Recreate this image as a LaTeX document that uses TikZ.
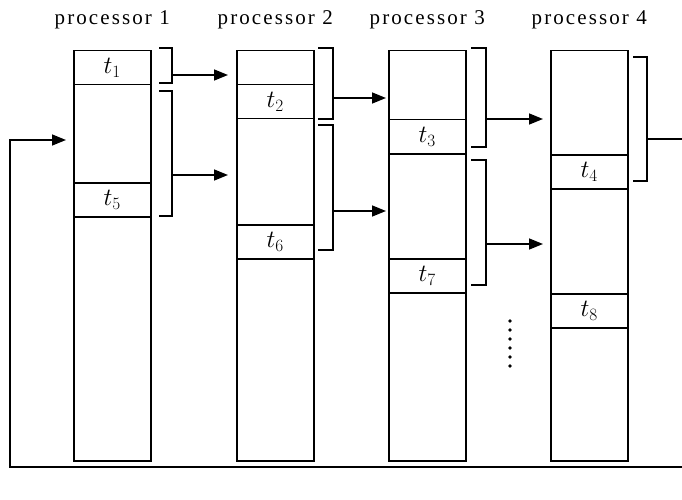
\documentclass[tikz,border=0pt]{standalone}
\usepackage{fontspec}
\setmainfont{Liberation Serif}
\newfontfamily\labelfont[LetterSpace=10]{Liberation Serif}
\usetikzlibrary{positioning,arrows.meta}

\begin{document}
\begin{tikzpicture}[x=1pt, y=-1pt,
  column/.style={rectangle, draw, line width=1.5pt, minimum width=77pt, minimum height=410pt, inner sep=0pt, anchor=north west},
  slot/.style={rectangle, draw, line width=1.5pt, minimum width=77pt, minimum height=34pt, inner sep=0pt, anchor=north west, font=\fontsize{27}{27}\selectfont},
  proclabel/.style={font=\labelfont\fontsize{21}{21}\selectfont, inner sep=0pt},
  brace/.style={line width=1.5pt},
  arrow/.style={-{Triangle[length=14pt,width=11pt]}, line width=1.5pt},
  loop/.style={line width=1.5pt}
]
\useasboundingbox (0,0) rectangle (682,500);
\clip (0,0) rectangle (682,500);

% processor columns
\foreach \i/\x in {1/73, 2/236, 3/388, 4/550} {
  \node[column] (proc\i) at (\x,50) {};
  \node[proclabel] (lab\i) at ([yshift=30pt]proc\i.north) {processor \i};
}

% task slots
\node[slot] (t1) at (73,50) {$t_1$};
\node[slot] (t5) at (73,182) {$t_5$};
\node[slot] (t2) at (236,84) {$t_2$};
\node[slot] (t6) at (236,224) {$t_6$};
\node[slot] (t3) at (388,119) {$t_3$};
\node[slot] (t7) at (388,258) {$t_7$};
\node[slot] (t4) at (550,154) {$t_4$};
\node[slot] (t8) at (550,293) {$t_8$};

% brackets
\draw[brace] (159,48) -- (172,48) -- (172,83) -- (159,83);
\draw[brace] (159,91) -- (172,91) -- (172,216) -- (159,216);
\draw[brace] (318,48) -- (333,48) -- (333,119) -- (318,119);
\draw[brace] (318,125) -- (333,125) -- (333,250) -- (318,250);
\draw[brace] (471,48) -- (486,48) -- (486,147) -- (471,147);
\draw[brace] (471,160) -- (486,160) -- (486,285) -- (471,285);
\draw[brace] (633,57) -- (647,57) -- (647,181) -- (633,181);

% hand-over arrows
\coordinate (a1) at (172,75);  \coordinate (b1) at (228,75);
\coordinate (a5) at (172,175); \coordinate (b5) at (228,175);
\coordinate (a2) at (333,98);  \coordinate (b2) at (386,98);
\coordinate (a6) at (333,211); \coordinate (b6) at (386,211);
\coordinate (a3) at (486,119); \coordinate (b3) at (543,119);
\coordinate (a7) at (486,244); \coordinate (b7) at (543,244);
\draw[arrow] (a1) -- (b1);
\draw[arrow] (a5) -- (b5);
\draw[arrow] (a2) -- (b2);
\draw[arrow] (a6) -- (b6);
\draw[arrow] (a3) -- (b3);
\draw[arrow] (a7) -- (b7);

% wrap-around back to processor 1
\coordinate (a4) at (647,139);
\coordinate (back) at (66,140);
\draw[loop] (a4) -- (688,139) -- (688,467) -- (10,467) -- (10,140) -- (30,140);
\draw[arrow] (10,140) -- (back);

% dots
\foreach \y in {321,330,339,348,357,366}
  \fill (510,\y) circle (1.8pt);
\end{tikzpicture}
\end{document}
